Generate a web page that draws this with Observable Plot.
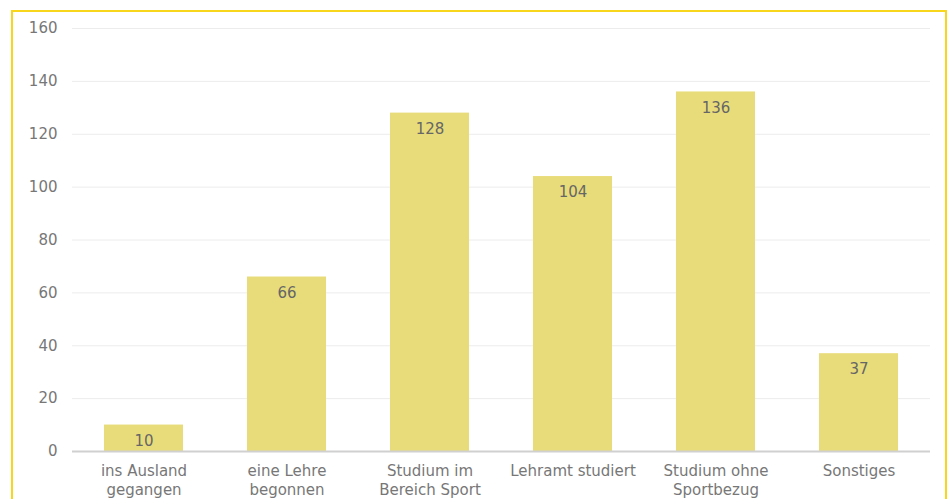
<!DOCTYPE html>
<html>
<head>
<meta charset="utf-8">
<script src="https://cdn.jsdelivr.net/npm/d3@7"></script>
<script src="https://cdn.jsdelivr.net/npm/@observablehq/plot@0.6"></script>
<style>
  html, body { margin: 0; padding: 0; background: #fff; overflow: hidden; width: 951px; height: 499px; }
  #frame { position: absolute; left: 11px; top: 10px; width: 932px; height: 520px; border: 2px solid #f8d61c; box-sizing: content-box; }
  #chart { position: absolute; left: 0; top: 0; }
</style>
</head>
<body>
<div id="frame"></div>
<div id="chart"></div>
<script>
const categories = [
  "ins Ausland\ngegangen",
  "eine Lehre\nbegonnen",
  "Studium im\nBereich Sport",
  "Lehramt studiert",
  "Studium ohne\nSportbezug",
  "Sonstiges"
];
const values = [10, 66, 128, 104, 136, 37];
const yTicks = [0, 20, 40, 60, 80, 100, 120, 140, 160];

const data = categories.map((c, i) => ({category: c, value: values[i]}));

const chart = Plot.plot({
  width: 951,
  height: 499,
  marginLeft: 72,
  marginRight: 21,
  marginTop: 28,
  marginBottom: 48,
  style: { fontFamily: "'DejaVu Sans', Verdana, sans-serif", fontSize: "15px", color: "#666", background: "transparent" },
  x: { domain: categories, paddingInner: 0.448, paddingOuter: 0.224, label: null },
  y: { domain: [0, 160], ticks: yTicks, label: null },
  marks: [
    Plot.gridY(yTicks.filter(t => t > 0), { stroke: "#ececec", strokeOpacity: 1, strokeWidth: 1 }),
    Plot.barY(data, { x: "category", y: "value", fill: "#e8dc7a" }),
    Plot.ruleY([0], { stroke: "#d0d0d0", strokeWidth: 2 }),
    Plot.text(data, { x: "category", y: "value", text: d => String(d.value), dy: 16, fill: "#666", fontSize: 15 }),
    Plot.axisY({ ticks: yTicks, tickSize: 0, tickPadding: 15, fill: "#777", fontSize: 15, label: null }),
    Plot.axisX({ tickSize: 0, tickPadding: 11, fill: "#777", fontSize: 15, lineHeight: 1.27, label: null })
  ]
});
document.getElementById("chart").appendChild(chart);
</script>
</body>
</html>
